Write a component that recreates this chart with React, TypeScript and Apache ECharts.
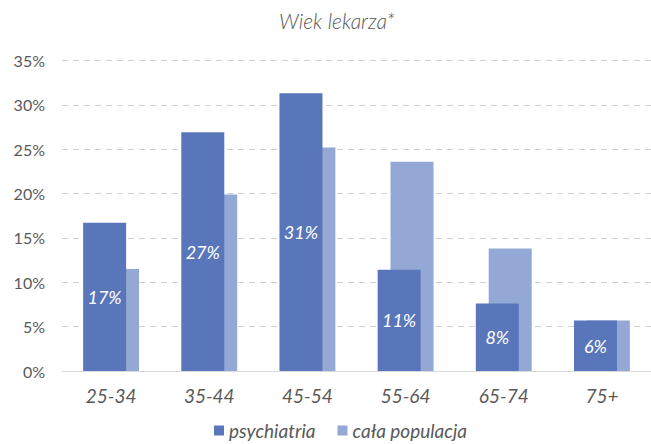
import React, { useEffect, useRef } from "react";
import * as echarts from "echarts";

const categories = ["25-34", "35-44", "45-54", "55-64", "65-74", "75+"];
const psychiatria = [16.7, 26.9, 31.3, 11.4, 7.6, 5.7];
const populacja = [11.5, 19.9, 25.2, 23.6, 13.8, 5.7];
const seriesNames = ["psychiatria", "cała populacja"];
const titleText = "Wiek lekarza*";

export default function App() {
  const ref = useRef<HTMLDivElement>(null);
  useEffect(() => {
    document.body.style.margin = "0";
    const chart = echarts.init(ref.current!, null, { renderer: "svg" });
    const font = "Lato, 'Open Sans', sans-serif";
    chart.setOption({
      animation: false,
      backgroundColor: "#ffffff",
      graphic: [
        {
          type: "text",
          x: 337,
          y: 20,
          style: {
            text: titleText,
            textAlign: "center",
            textVerticalAlign: "middle",
            fontFamily: font,
            fontStyle: "italic",
            fontWeight: 300,
            fontSize: 21,
            fill: "#595959",
          },
        },
      ],
      legend: {
        data: seriesNames,
        bottom: -1,
        left: 209,
        icon: "rect",
        itemWidth: 10,
        itemHeight: 10,
        itemGap: 22,
        textStyle: {
          fontFamily: font,
          fontStyle: "italic",
          fontSize: 19,
          color: "#595959",
        },
      },
      grid: { left: 62, right: -3, top: 60.5, bottom: 73 },
      xAxis: {
        type: "category",
        data: categories,
        axisLine: { lineStyle: { color: "#D9D9D9", width: 1 } },
        axisTick: { show: false },
        axisLabel: {
          fontFamily: font,
          fontStyle: "italic",
          fontSize: 19,
          color: "#595959",
          margin: 15,
        },
      },
      yAxis: {
        type: "value",
        min: 0,
        max: 35,
        interval: 5,
        axisLine: { show: false },
        axisTick: { show: false },
        axisLabel: {
          formatter: "{value}%",
          fontFamily: font,
          fontSize: 16,
          color: "#595959",
          margin: 17,
        },
        splitLine: {
          lineStyle: { color: "#D0D0D0", type: [6, 5], width: 1 },
        },
      },
      series: [
        {
          name: seriesNames[0],
          type: "bar",
          data: psychiatria,
          barWidth: 43,
          barGap: "-70%",
          z: 3,
          itemStyle: { color: "#5976BA" },
          label: {
            show: true,
            position: "inside",
            formatter: (p: any) => Math.round(p.value) + "%",
            fontFamily: font,
            fontStyle: "italic",
            fontSize: 18,
            color: "#ffffff",
          },
        },
        {
          name: seriesNames[1],
          type: "bar",
          data: populacja,
          barWidth: 43,
          z: 2,
          itemStyle: { color: "#93A8D4" },
        },
      ],
    });
    return () => chart.dispose();
  }, []);
  return <div ref={ref} style={{ width: 651, height: 444 }} />;
}
